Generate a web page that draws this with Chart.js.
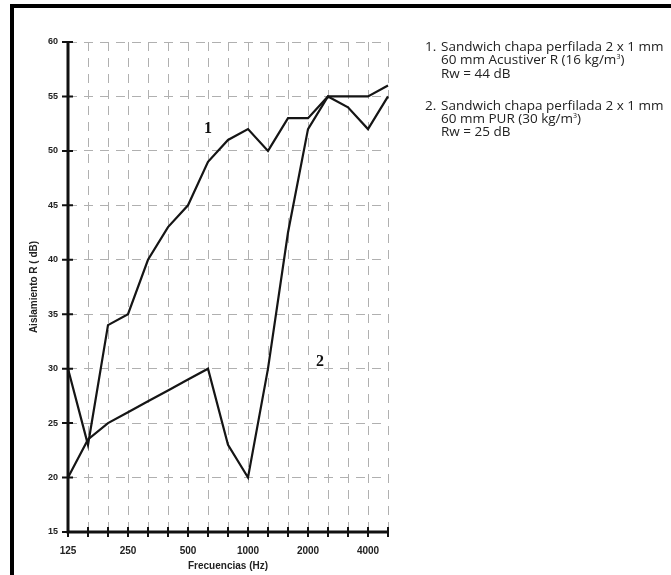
<!DOCTYPE html>
<html>
<head>
<meta charset="utf-8">
<script src="https://cdn.jsdelivr.net/npm/chart.js@4"></script>
<style>
  html, body { margin: 0; padding: 0; background: #fff; width: 671px; height: 575px; overflow: hidden; }
  #frame { position: absolute; left: 10px; top: 4px; width: 700px; height: 620px; border: 4px solid #000; box-sizing: border-box; }
  #wrap { position: absolute; left: 0; top: 0; width: 671px; height: 575px; }
  #legend { position: absolute; left: 425px; top: 40px; font-family: "Open Sans", "Noto Sans", sans-serif; font-size: 13.5px; line-height: 13.3px; color: #222; }
  .item { position: relative; padding-left: 16px; margin-bottom: 19px; white-space: nowrap; }
  .num { position: absolute; left: 0; top: 0; }
  sup { font-size: 7px; vertical-align: 5px; line-height: 0; }
</style>
</head>
<body>
<div id="frame"></div>
<div id="wrap"><canvas id="c" width="671" height="575"></canvas></div>
<div id="legend">
  <div class="item"><span class="num">1.</span>Sandwich chapa perfilada 2 x 1 mm<br>60 mm Acustiver R (16 kg/m<sup>3</sup>)<br>Rw = 44 dB</div>
  <div class="item"><span class="num">2.</span>Sandwich chapa perfilada 2 x 1 mm<br>60 mm PUR (30 kg/m<sup>3</sup>)<br>Rw = 25 dB</div>
</div>
<script>
// ---- data ----
const frequencies = ['125','160','200','250','315','400','500','630','800','1000','1250','1600','2000','2500','3150','4000','5000'];
const shownFreqLabels = ['125','250','500','1000','2000','4000'];
const series1 = [30, 23, 34, 35, 40, 43, 45, 49, 51, 52, 50, 53, 53, 55, 55, 55, 56];
const series2 = [20, 23.5, 25, 26, 27, 28, 29, 30, 23, 20, 30, 42.5, 52, 55, 54, 52, 55];
const yTickValues = [15, 20, 25, 30, 35, 40, 45, 50, 55, 60];
const curveLabels = [
  { text: '1', x: 7, y: 52 },
  { text: '2', x: 12.6, y: 30.6 }
];

const axesPlugin = {
  id: 'axesPlugin',
  afterDatasetsDraw(chart) {
    const ctx = chart.ctx;
    const xs = chart.scales.x, ys = chart.scales.y;
    const x0 = xs.getPixelForValue(0);
    const x1 = xs.getPixelForValue(frequencies.length - 1);
    const yTop = ys.getPixelForValue(60), yBot = ys.getPixelForValue(15);
    ctx.save();
    ctx.strokeStyle = '#111';
    ctx.lineCap = 'butt';
    ctx.lineWidth = 3;
    ctx.beginPath();
    ctx.moveTo(x0, yTop); ctx.lineTo(x0, yBot + 1.5);
    ctx.moveTo(x0 - 1.5, yBot); ctx.lineTo(x1 + 1, yBot);
    ctx.stroke();
    ctx.lineWidth = 2;
    ctx.beginPath();
    yTickValues.forEach(v => {
      const py = ys.getPixelForValue(v);
      ctx.moveTo(x0 - 6, py); ctx.lineTo(x0 + 5, py);
    });
    frequencies.forEach((f, i) => {
      const px = xs.getPixelForValue(i);
      ctx.moveTo(px, yBot - 5); ctx.lineTo(px, yBot + 5);
    });
    ctx.stroke();
    ctx.fillStyle = '#111';
    ctx.font = 'bold 16px "Liberation Serif", "DejaVu Serif", serif';
    ctx.textAlign = 'center';
    ctx.textBaseline = 'middle';
    curveLabels.forEach(l => {
      ctx.fillText(l.text, xs.getPixelForValue(l.x), ys.getPixelForValue(l.y));
    });
    ctx.restore();
  }
};

const tickFont = { family: '"Liberation Sans", Arial, sans-serif', size: 10, weight: 'bold' };

new Chart(document.getElementById('c'), {
  type: 'line',
  data: {
    labels: frequencies,
    datasets: [
      { label: '1', data: series1, borderColor: '#151515', borderWidth: 2.2, pointRadius: 0, tension: 0, fill: false, clip: false },
      { label: '2', data: series2, borderColor: '#151515', borderWidth: 2.2, pointRadius: 0, tension: 0, fill: false, clip: false }
    ]
  },
  options: {
    responsive: false,
    animation: false,
    events: [],
    layout: { padding: { left: 0, top: 42, right: 283, bottom: 0 } },
    plugins: { legend: { display: false }, tooltip: { enabled: false } },
    scales: {
      x: {
        type: 'category',
        offset: false,
        afterFit(s) { s.height = 43; },
        grid: { color: '#b0b0b0', lineWidth: 1, drawTicks: false },
        border: { display: false, dash: [9, 7] },
        ticks: {
          autoSkip: false, maxRotation: 0, padding: 13, color: '#222', font: tickFont,
          callback(v, i) { const l = frequencies[i]; return shownFreqLabels.includes(l) ? l : ''; }
        },
        title: { display: true, text: 'Frecuencias (Hz)', color: '#222', font: tickFont, padding: { top: 0, bottom: 3 } }
      },
      y: {
        min: 15, max: 60,
        afterFit(s) { s.width = 68; },
        grid: { color: '#b0b0b0', lineWidth: 1, drawTicks: false },
        border: { display: false, dash: [9, 7] },
        ticks: { stepSize: 5, padding: 10, color: '#222', font: { family: '"Liberation Sans", Arial, sans-serif', size: 9, weight: 'bold' } },
        title: { display: true, text: 'Aislamiento R ( dB)', color: '#222', font: tickFont, padding: { top: 28, bottom: 0 } }
      }
    }
  },
  plugins: [axesPlugin]
});
</script>
</body>
</html>
